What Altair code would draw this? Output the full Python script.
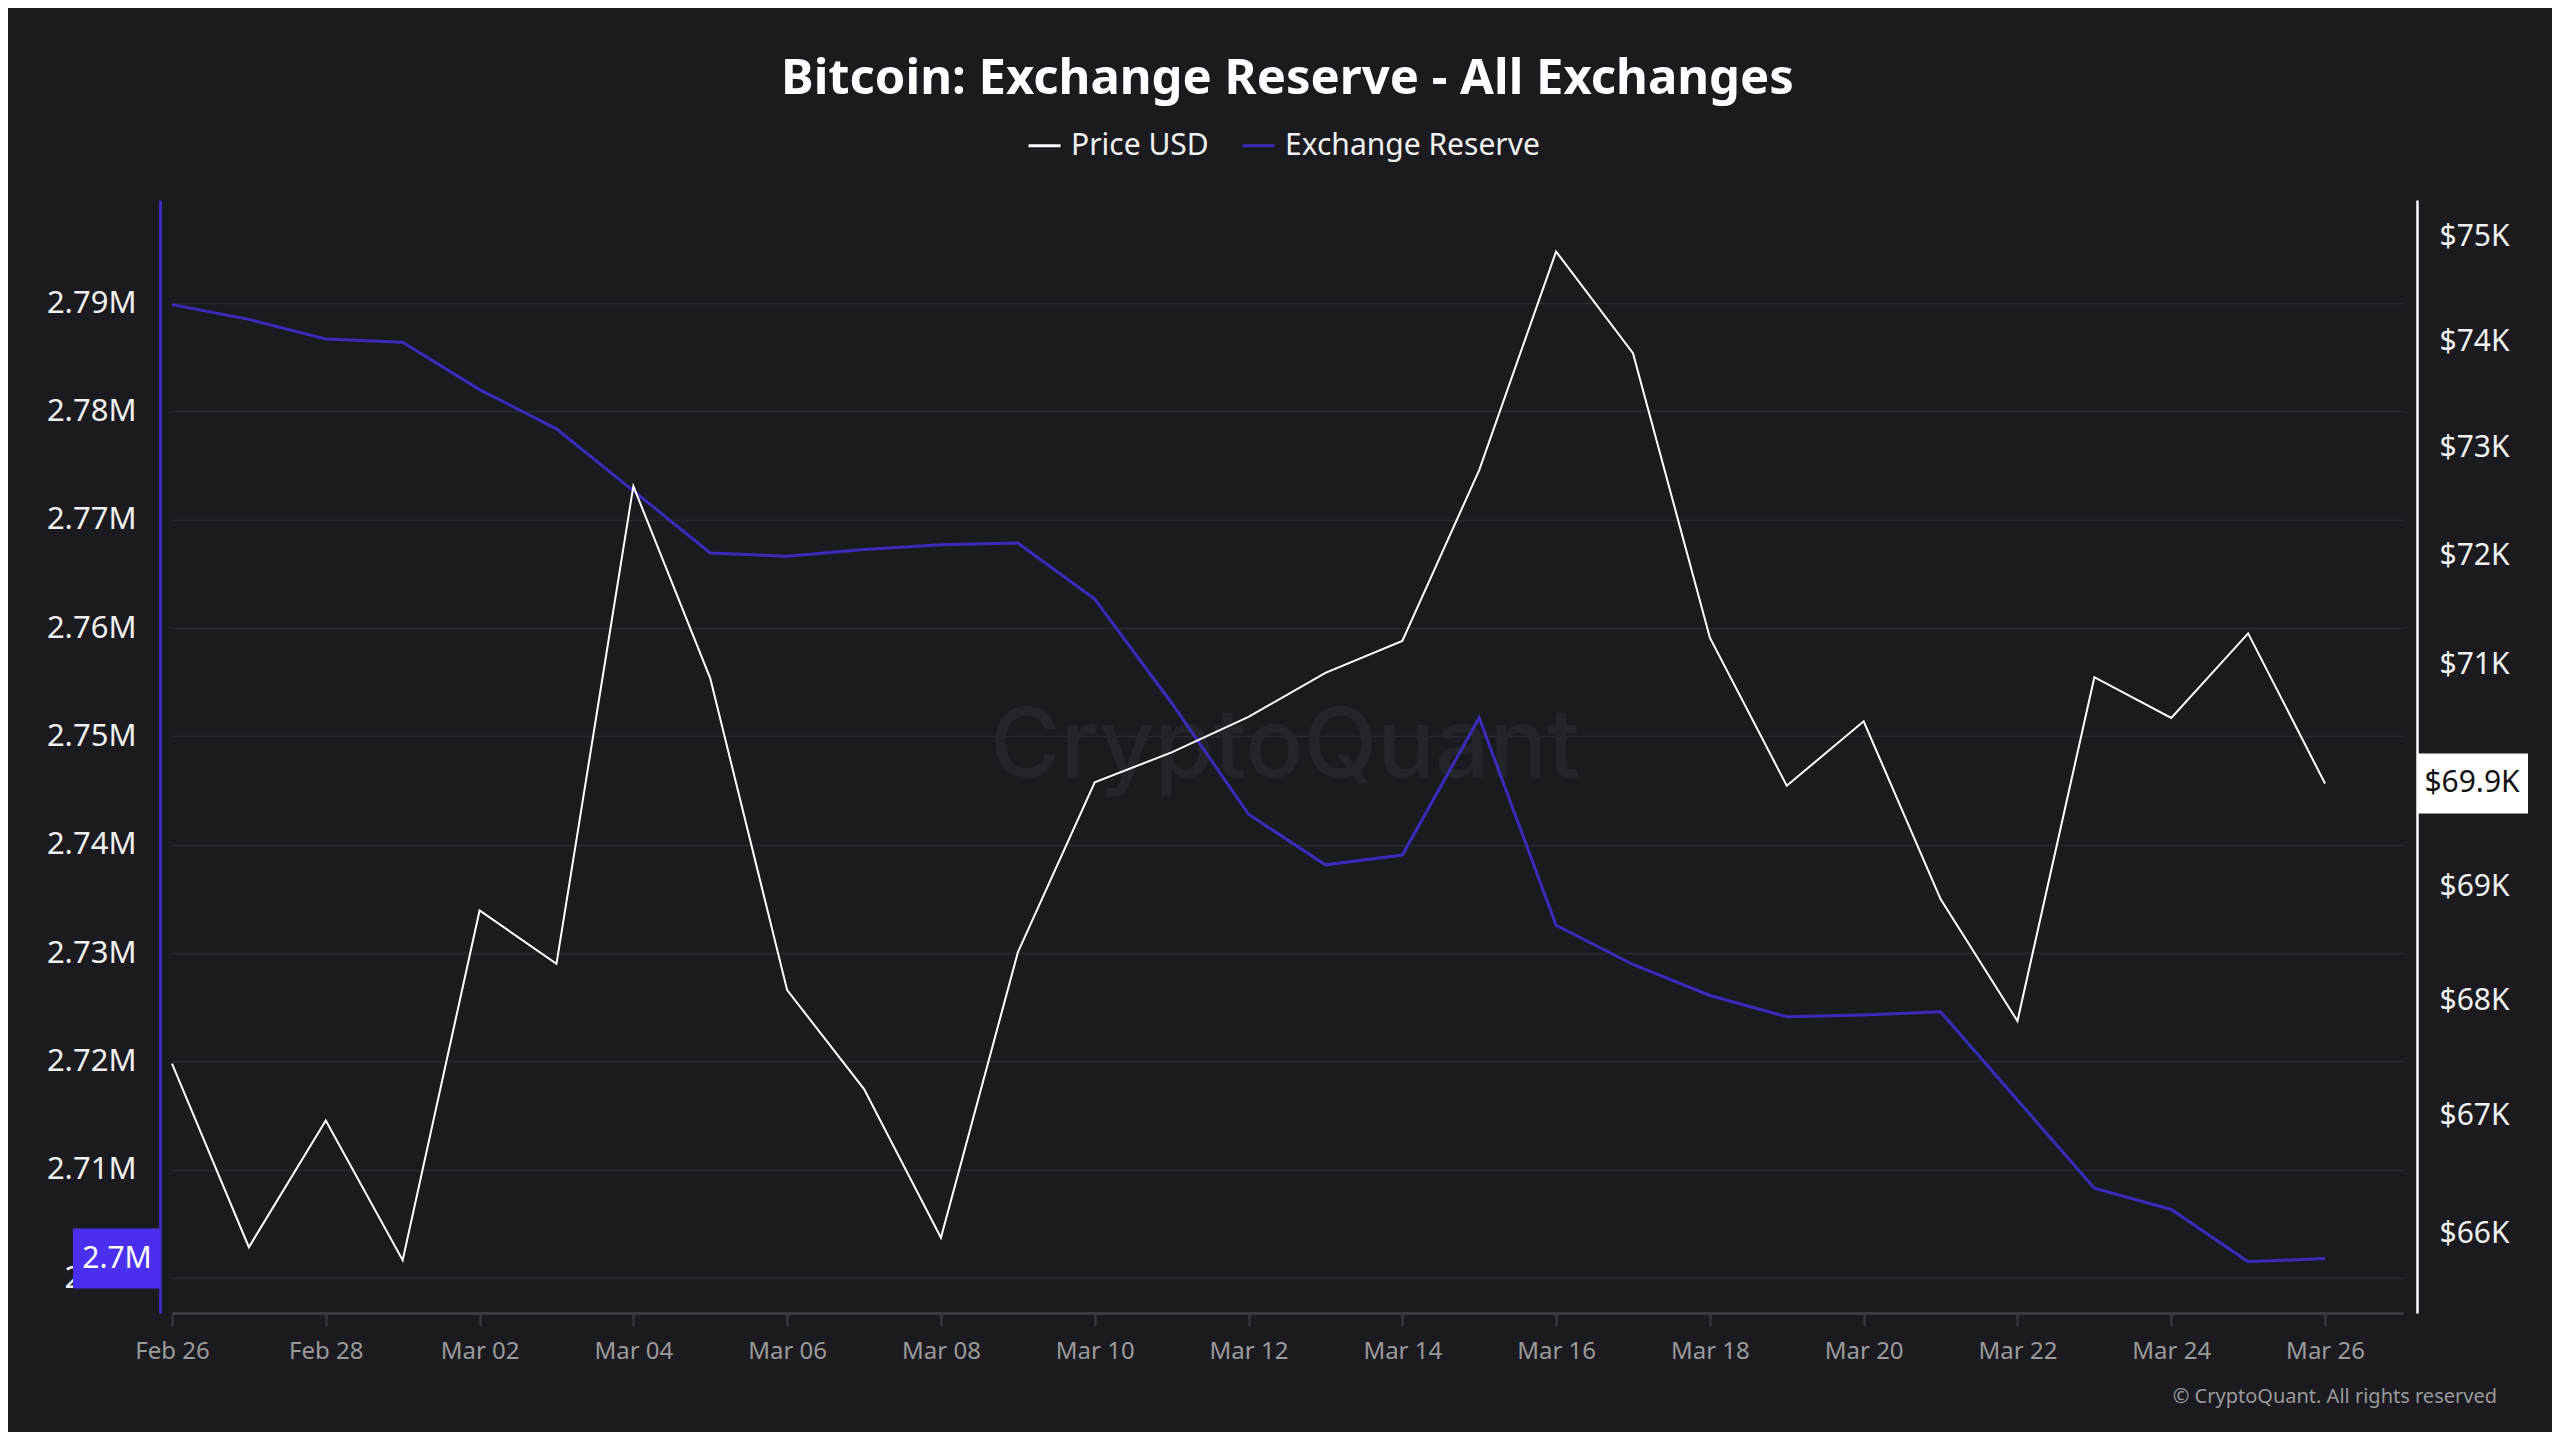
import altair as alt
import pandas as pd

# daily values (Feb 26 - Mar 26)
dates = [d.strftime("%Y-%m-%d") for d in pd.date_range("2026-02-26", "2026-03-26")]

price_usd = [67450, 65880, 66960, 65770, 68790, 68320, 72640, 70870, 68090, 67230,
             65960, 68420, 69930, 70200, 70520, 70920, 71210, 72790, 74860, 73890,
             71240, 69900, 70480, 68890, 67820, 70880, 70510, 71280, 69920]

reserve = [2.78985, 2.78849, 2.78668, 2.78638, 2.78201, 2.77839, 2.77266, 2.76693,
           2.76663, 2.76724, 2.76769, 2.76785, 2.76268, 2.75308, 2.74281, 2.73814,
           2.73904, 2.75172, 2.73256, 2.72894, 2.72608, 2.72412, 2.72427, 2.72457,
           2.71643, 2.70829, 2.70633, 2.70150, 2.70180]

reserve_ticks = [2.70, 2.71, 2.72, 2.73, 2.74, 2.75, 2.76, 2.77, 2.78, 2.79]
price_ticks = [66000, 67000, 68000, 69000, 70000, 71000, 72000, 73000, 74000, 75000]
date_ticks = dates[::2]

series = ["Price USD", "Exchange Reserve"]
colors = ["#ffffff", "#3b2bbd"]

BG = "#1a1a1f"
FONT = "Noto Sans"
W, H = 2231, 1113

df_price = pd.DataFrame({"date": dates, "price": price_usd, "series": series[0]})
df_res = pd.DataFrame({"date": dates, "reserve": [r * 1e6 for r in reserve], "series": series[1]})

x_enc = alt.X(
    "date:T",
    title=None,
    scale=alt.Scale(
        type="utc",
        domain=[alt.DateTime(year=2026, month=2, date=26, utc=True),
                alt.DateTime(year=2026, month=3, date=27, minutes=20, utc=True)],
    ),
    axis=alt.Axis(
        values=[alt.DateTime(year=int(d[:4]), month=int(d[5:7]), date=int(d[8:]), utc=True) for d in date_ticks],
        labelExpr="utcFormat(datum.value, '%b %d')",
        grid=False, domainColor="#3a3a40", domainWidth=3,
        tickColor="#3a3a40", tickSize=13, tickWidth=2, labelFlush=False,
        labelColor="#9a9a9a", labelFontSize=24, labelPadding=13, labelFont=FONT,
    ),
)

color_enc = alt.Color(
    "series:N",
    scale=alt.Scale(domain=series, range=colors),
    legend=alt.Legend(
        orient="none", legendX=855, legendY=-72, direction="horizontal", title=None,
        symbolType="stroke", symbolSize=1024, symbolStrokeWidth=3,
        labelFontSize=30, labelColor="#f0f0f0", labelFont=FONT, labelLimit=500,
        columnPadding=27, labelOffset=9,
    ),
)

res_scale = alt.Scale(domain=[2696770, 2799510], nice=False, zero=False)
price_scale = alt.Scale(type="log", domain=[65326, 75357], nice=False)

# exchange reserve (left axis)
res_line = alt.Chart(df_res).mark_line(strokeWidth=3).encode(
    x=x_enc,
    y=alt.Y("reserve:Q", title=None, scale=res_scale,
            axis=alt.Axis(orient="left", offset=12, values=[t * 1e6 for t in reserve_ticks],
                          format=".3~s", ticks=False, labelPadding=24,
                          domainColor=colors[1], domainWidth=3,
                          grid=True, gridColor="#2a2a30", gridWidth=1.5,
                          labelColor="#f0f0f0", labelFontSize=31, labelFont=FONT)),
    color=color_enc,
)
res_last = df_res.tail(1)
res_flag = alt.Chart(res_last).mark_rule(strokeWidth=60, color="#4a30ee", strokeCap="butt").encode(
    x=alt.value(-99), x2=alt.value(-12), y=alt.Y("reserve:Q", scale=res_scale)
)
res_flag_text = alt.Chart(res_last).mark_text(color="#ffffff", fontSize=30, font=FONT).encode(
    x=alt.value(-55), y=alt.Y("reserve:Q", scale=res_scale),
    text=alt.Text("reserve:Q", format=".2~s"),
)
reserve_layer = alt.layer(res_line, res_flag, res_flag_text)

# price (right axis, log)
price_line = alt.Chart(df_price).mark_line(strokeWidth=2).encode(
    x=x_enc,
    y=alt.Y("price:Q", title=None, scale=price_scale,
            axis=alt.Axis(orient="right", offset=14, values=price_ticks,
                          labelExpr="'$' + (datum.value / 1000) + 'K'",
                          ticks=False, labelPadding=22, grid=False,
                          domainColor="#ffffff", domainWidth=2.5,
                          labelColor="#f0f0f0", labelFontSize=30, labelFont=FONT)),
    color=color_enc,
)
price_last = df_price.tail(1)
price_flag = alt.Chart(price_last).mark_rule(strokeWidth=60, color="#ffffff", strokeCap="butt").encode(
    x=alt.value(2245), x2=alt.value(2356), y=alt.Y("price:Q", scale=price_scale)
)
price_flag_text = alt.Chart(price_last).transform_calculate(
    label="'$' + format(datum.price / 1000, '.1f') + 'K'"
).mark_text(color="#111111", fontSize=30, font=FONT).encode(
    x=alt.value(2300), y=alt.Y("price:Q", scale=price_scale), text="label:N"
)
price_layer = alt.layer(price_line, price_flag, price_flag_text)

watermark = alt.Chart(pd.DataFrame({"t": ["CryptoQuant"]})).mark_text(
    fontSize=96, fontWeight=500, color="#24252a", font="Inter"
).encode(x=alt.value(1113), y=alt.value(548), text="t:N")

copyright = alt.Chart(pd.DataFrame({"t": ["© CryptoQuant. All rights reserved"]})).mark_text(
    fontSize=20, color="#9a9a9a", align="right", font=FONT
).encode(x=alt.value(2325), y=alt.value(1197), text="t:N")

chart = alt.layer(watermark, reserve_layer, price_layer, copyright).resolve_scale(
    y="independent"
).properties(
    width=W, height=H,
    title=alt.TitleParams("Bitcoin: Exchange Reserve - All Exchanges", fontSize=49,
                          fontWeight="bold", color="#ffffff", font=FONT,
                          anchor="middle", offset=24),
    autosize=alt.AutoSizeParams(type="none"),
    padding={"left": 164, "top": 192, "right": 149, "bottom": 119},
    background=BG,
).configure_view(stroke=None)

chart.save("out.html", embed_options={"renderer": "svg", "actions": False})
